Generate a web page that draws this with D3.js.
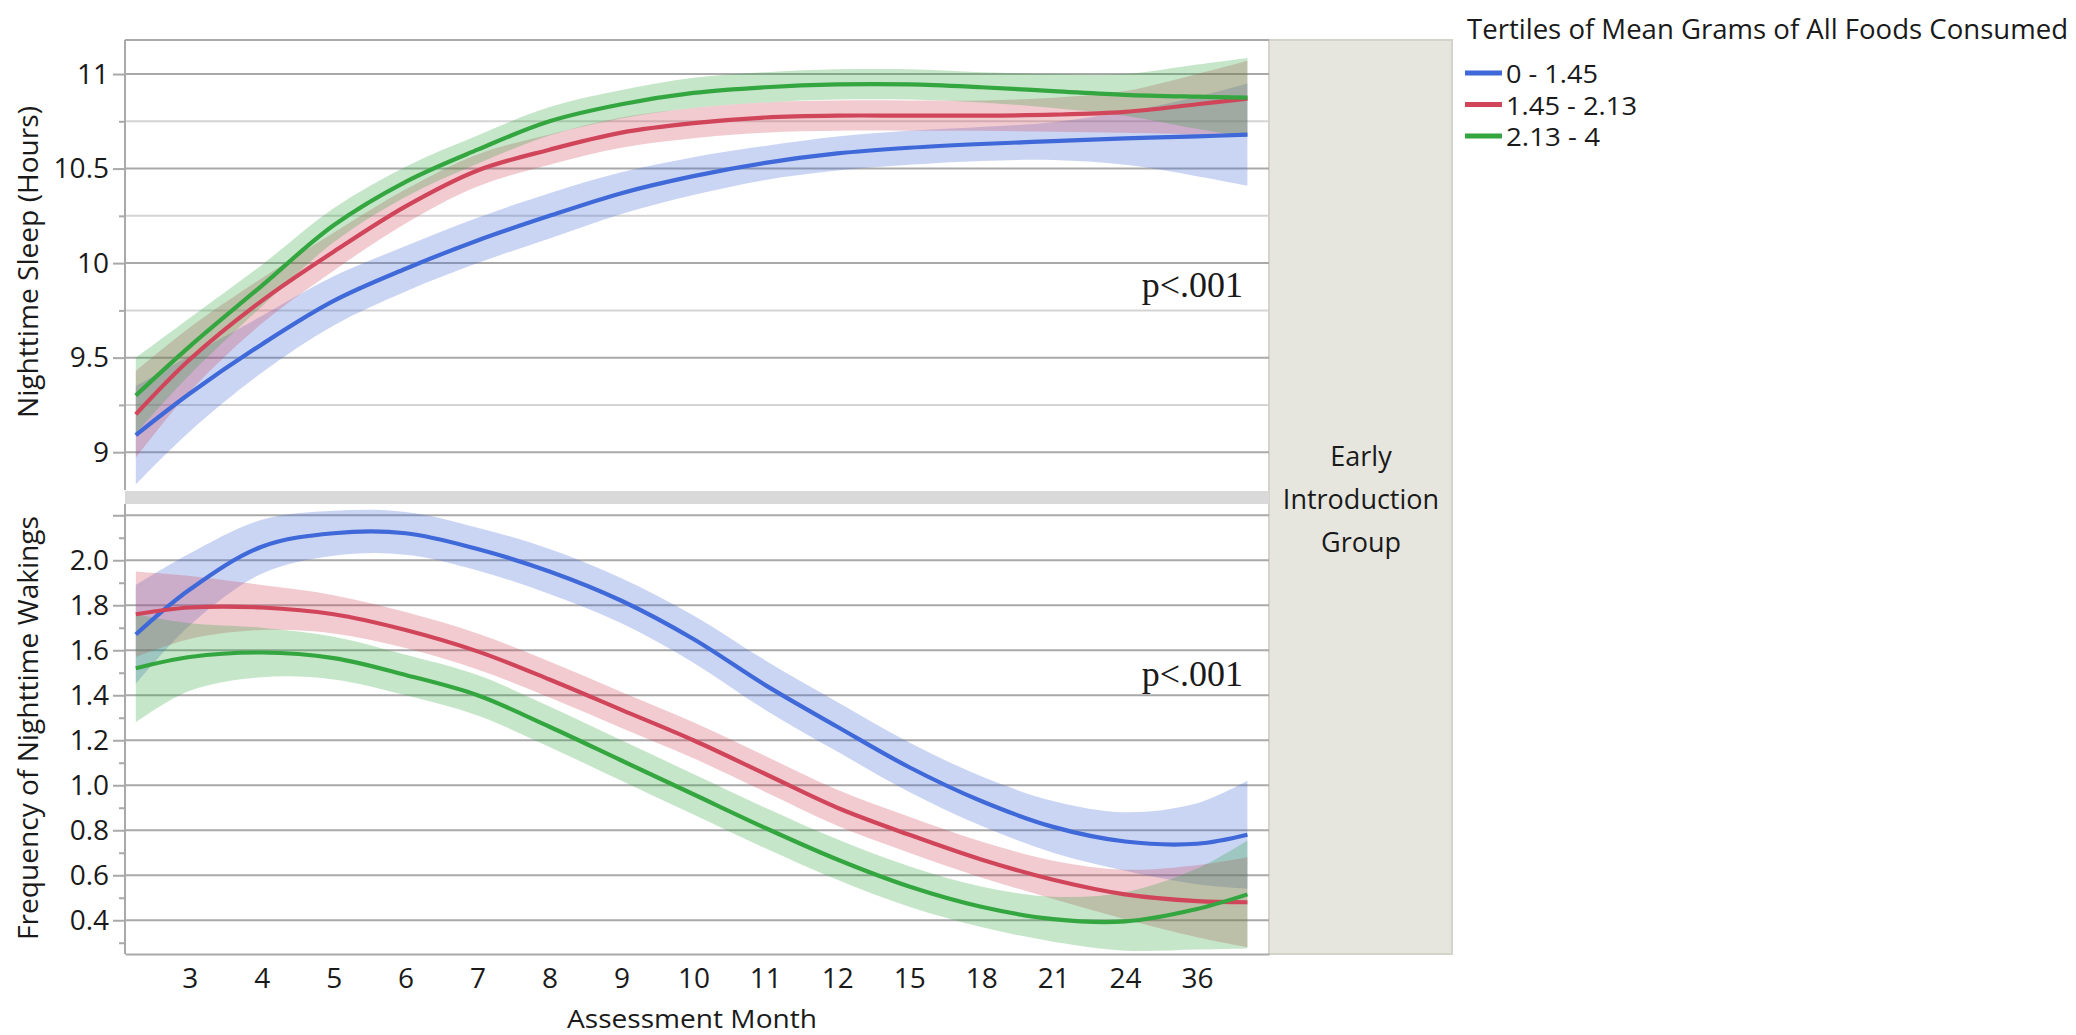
<!DOCTYPE html>
<html>
<head>
<meta charset="utf-8">
<script src="https://cdn.jsdelivr.net/npm/d3@7"></script>
<style>
  html, body { margin: 0; padding: 0; background: #ffffff; }
  svg { display: block; }
  text { fill: #1a1a1a; }
</style>
</head>
<body>
<svg id="chart" width="2076" height="1035"></svg>
<script>
// ---------------- DATA ----------------
const monthLabels = ["3","4","5","6","7","8","9","10","11","12","15","18","21","24","36"];
const groups = ["0 - 1.45", "1.45 - 2.13", "2.13 - 4"];
const legendTitle = "Tertiles of Mean Grams of All Foods Consumed";
const panelLabel = ["Early", "Introduction", "Group"];

// x positions (assessment index: 0 = month 3 ... 14 = month 36)
const xIdx = [-0.75, 0, 1, 2, 3, 4, 5, 6, 7, 8, 9, 10, 11, 12, 13, 14, 14.7];

// Nighttime sleep (hours) - fitted curves
const sleepLow  = [9.09, 9.31, 9.57, 9.80, 9.97, 10.12, 10.25, 10.37, 10.46, 10.53, 10.58, 10.61, 10.63, 10.645, 10.66, 10.67, 10.68];
const sleepMid  = [9.20, 9.49, 9.80, 10.06, 10.30, 10.49, 10.60, 10.69, 10.74, 10.77, 10.78, 10.78, 10.78, 10.785, 10.80, 10.84, 10.87];
const sleepHigh = [9.30, 9.56, 9.88, 10.20, 10.43, 10.60, 10.75, 10.84, 10.90, 10.93, 10.945, 10.945, 10.93, 10.91, 10.89, 10.88, 10.875];
// confidence half-widths
const sleepLowCI  = [0.26, 0.20, 0.15, 0.13, 0.12, 0.12, 0.12, 0.11, 0.10, 0.09, 0.09, 0.09, 0.09, 0.10, 0.14, 0.21, 0.27];
const sleepMidCI  = [0.23, 0.17, 0.12, 0.10, 0.09, 0.085, 0.08, 0.08, 0.08, 0.08, 0.08, 0.08, 0.08, 0.09, 0.11, 0.16, 0.20];
const sleepHighCI = [0.20, 0.15, 0.11, 0.09, 0.08, 0.075, 0.075, 0.075, 0.08, 0.08, 0.08, 0.08, 0.08, 0.09, 0.11, 0.17, 0.21];

// Frequency of nighttime wakings - fitted curves
const wakeLow  = [1.67, 1.87, 2.06, 2.12, 2.12, 2.05, 1.95, 1.82, 1.65, 1.445, 1.26, 1.08, 0.93, 0.815, 0.75, 0.74, 0.78];
const wakeMid  = [1.76, 1.79, 1.79, 1.76, 1.69, 1.595, 1.47, 1.335, 1.20, 1.05, 0.90, 0.78, 0.67, 0.58, 0.515, 0.485, 0.48];
const wakeHigh = [1.52, 1.57, 1.59, 1.565, 1.49, 1.40, 1.26, 1.11, 0.96, 0.81, 0.67, 0.55, 0.46, 0.405, 0.395, 0.45, 0.515];
const wakeLowCI  = [0.22, 0.16, 0.12, 0.10, 0.095, 0.095, 0.10, 0.10, 0.105, 0.11, 0.11, 0.11, 0.11, 0.115, 0.13, 0.18, 0.24];
const wakeMidCI  = [0.19, 0.14, 0.10, 0.085, 0.08, 0.08, 0.08, 0.08, 0.08, 0.08, 0.08, 0.08, 0.08, 0.085, 0.11, 0.16, 0.20];
const wakeHighCI = [0.24, 0.15, 0.11, 0.095, 0.09, 0.09, 0.09, 0.09, 0.09, 0.09, 0.09, 0.09, 0.09, 0.10, 0.13, 0.18, 0.24];

// axis ticks
const sleepMajor = [9, 9.5, 10, 10.5, 11];
const sleepMinor = [9.25, 9.75, 10.25, 10.75];
const wakeMajor = [0.4, 0.6, 0.8, 1.0, 1.2, 1.4, 1.6, 1.8, 2.0, 2.2];
const wakeLabels = ["0.4","0.6","0.8","1.0","1.2","1.4","1.6","1.8","2.0",""];
const wakeMinor = [0.3, 0.5, 0.7, 0.9, 1.1, 1.3, 1.5, 1.7, 1.9, 2.1];

const colors = ["#3f68d8", "#d1455a", "#34a63f"];

// ---------------- LAYOUT ----------------
const SANS = "'Open Sans', 'Noto Sans', sans-serif";
const SERIF = "'Liberation Serif', 'DejaVu Serif', serif";
const svg = d3.select("#chart");
const L = 125, R = 1269;
const x = d3.scaleLinear().domain([-0.9, 15.0]).range([L, R]);
const yTop = d3.scaleLinear().domain([8.8, 11.18]).range([490, 40]);
const yBot = d3.scaleLinear().domain([0.25, 2.25]).range([954, 504]);

const gridMajor = "#a9a9a9", gridMinor = "#d4d4d4";

function txt(sel) { return sel.style("font-family", SANS); }

// right panel (Early Introduction Group)
svg.append("rect").attr("x", R).attr("y", 40).attr("width", 183).attr("height", 914)
  .attr("fill", "#e6e6df").attr("stroke", "#d3d3c8").attr("stroke-width", 2);
panelLabel.forEach((t, i) => {
  txt(svg.append("text")).attr("x", 1361).attr("y", 466 + i * 43).attr("text-anchor", "middle")
    .attr("font-size", 27).text(t);
});

// separator band
svg.append("rect").attr("x", L).attr("y", 491).attr("width", R - L).attr("height", 13).attr("fill", "#d9d9d9");

function drawPanel(y, major, majorLabels, minor, minorGrid, series, cis) {
  const g = svg.append("g");
  if (minorGrid) {
    g.selectAll(".mg").data(minor).join("line")
      .attr("x1", L).attr("x2", R).attr("y1", d => y(d)).attr("y2", d => y(d))
      .attr("stroke", gridMinor).attr("stroke-width", 2);
  }
  g.selectAll(".Mg").data(major).join("line")
    .attr("x1", L).attr("x2", R).attr("y1", d => y(d)).attr("y2", d => y(d))
    .attr("stroke", gridMajor).attr("stroke-width", 2);

  const ax = d3.axisLeft(y).tickValues(major).tickSize(12).tickPadding(4)
    .tickFormat((d, i) => majorLabels[i]);
  const axG = g.append("g").attr("transform", `translate(${L},0)`).call(ax);
  axG.select(".domain").remove();
  axG.selectAll("line").attr("stroke", gridMajor).attr("stroke-width", 2);
  axG.selectAll("text").attr("font-size", 28).style("font-family", SANS).attr("fill", "#1a1a1a");
  const axm = d3.axisLeft(y).tickValues(minor).tickSize(6).tickFormat("");
  const axmG = g.append("g").attr("transform", `translate(${L},0)`).call(axm);
  axmG.select(".domain").remove();
  axmG.selectAll("line").attr("stroke", gridMajor).attr("stroke-width", 2);

  const curve = d3.curveCatmullRom.alpha(0.5);
  const area = d3.area().x((d, i) => x(xIdx[i])).curve(curve);
  series.forEach((s, k) => {
    g.append("path")
      .attr("d", area.y0((d, i) => y(s[i] - cis[k][i])).y1((d, i) => y(s[i] + cis[k][i]))(s))
      .attr("fill", colors[k]).attr("fill-opacity", 0.28);
  });
  const line = d3.line().x((d, i) => x(xIdx[i])).y(d => y(d)).curve(curve);
  series.forEach((s, k) => {
    g.append("path").attr("d", line(s)).attr("fill", "none")
      .attr("stroke", colors[k]).attr("stroke-width", 4.2);
  });
  g.append("line").attr("x1", L).attr("x2", L).attr("y1", y.range()[1]).attr("y2", y.range()[0])
    .attr("stroke", gridMajor).attr("stroke-width", 2);
  return g;
}

drawPanel(yTop, sleepMajor, sleepMajor.map(String), sleepMinor, true,
  [sleepLow, sleepMid, sleepHigh], [sleepLowCI, sleepMidCI, sleepHighCI]);
drawPanel(yBot, wakeMajor, wakeLabels, wakeMinor, false,
  [wakeLow, wakeMid, wakeHigh], [wakeLowCI, wakeMidCI, wakeHighCI]);

// top frame line
svg.append("line").attr("x1", L).attr("x2", R).attr("y1", 40).attr("y2", 40)
  .attr("stroke", gridMajor).attr("stroke-width", 2);

// x axis
const xAx = d3.axisBottom(x).tickValues(d3.range(monthLabels.length)).tickSize(0).tickPadding(14)
  .tickFormat(i => monthLabels[i]);
const xG = svg.append("g").attr("transform", "translate(0,954)").call(xAx);
xG.select(".domain").attr("stroke", gridMajor).attr("stroke-width", 2);
xG.selectAll("text").attr("font-size", 28).style("font-family", SANS).attr("fill", "#1a1a1a");

// p-values
["top", "bot"].forEach((p, i) => {
  svg.append("text").attr("x", 1243).attr("y", i === 0 ? 297 : 686).attr("text-anchor", "end")
    .style("font-family", SERIF).attr("font-size", 36).text("p<.001");
});

// axis titles
txt(svg.append("text")).attr("transform", "translate(38,262) rotate(-90)").attr("text-anchor", "middle")
  .attr("font-size", 27).attr("textLength", 312).attr("lengthAdjust", "spacingAndGlyphs")
  .text("Nighttime Sleep (Hours)");
txt(svg.append("text")).attr("transform", "translate(38,728) rotate(-90)").attr("text-anchor", "middle")
  .attr("font-size", 27).attr("textLength", 424).attr("lengthAdjust", "spacingAndGlyphs")
  .text("Frequency of Nighttime Wakings");
txt(svg.append("text")).attr("x", 692).attr("y", 1028).attr("text-anchor", "middle")
  .attr("font-size", 26).attr("textLength", 250).attr("lengthAdjust", "spacingAndGlyphs")
  .text("Assessment Month");

// legend
txt(svg.append("text")).attr("x", 1467).attr("y", 39).attr("font-size", 27)
  .attr("textLength", 601).attr("lengthAdjust", "spacingAndGlyphs").text(legendTitle);
const legW = [92, 131, 94];
groups.forEach((gname, k) => {
  const by = 83 + k * 31.5;
  svg.append("line").attr("x1", 1465).attr("x2", 1502).attr("y1", by - 10).attr("y2", by - 10)
    .attr("stroke", colors[k]).attr("stroke-width", 5);
  txt(svg.append("text")).attr("x", 1506).attr("y", by).attr("font-size", 25)
    .attr("textLength", legW[k]).attr("lengthAdjust", "spacingAndGlyphs").text(gname);
});
</script>
</body>
</html>
